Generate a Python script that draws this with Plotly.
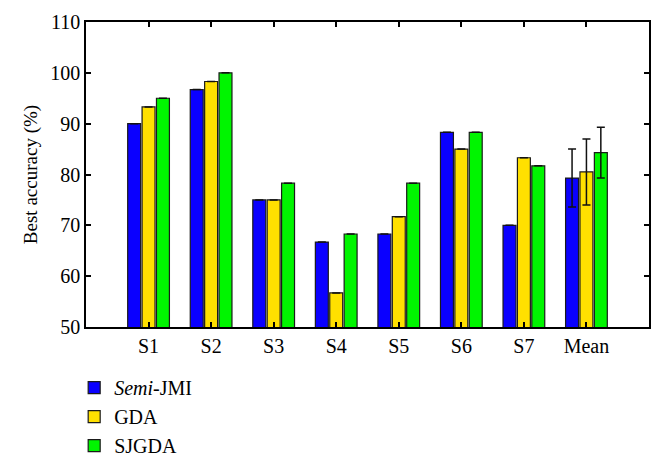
import plotly.graph_objects as go

categories = ["S1", "S2", "S3", "S4", "S5", "S6", "S7", "Mean"]
semi_jmi = [90.0, 96.7, 75.0, 66.7, 68.3, 88.3, 70.0, 79.3]
gda = [93.3, 98.3, 75.0, 56.7, 71.7, 85.0, 83.3, 80.5]
sjgda = [95.0, 100.0, 78.3, 68.3, 78.3, 88.3, 81.7, 84.3]
semi_jmi_err = [None] * 7 + [5.7]
gda_err = [None] * 7 + [6.5]
sjgda_err = [None] * 7 + [5.0]
y_ticks = [50, 60, 70, 80, 90, 100, 110]

names = ["<i>Semi</i>-JMI", "GDA", "SJGDA"]
colors = ["#0A00FF", "#FFE000", "#00F500"]
series = [semi_jmi, gda, sjgda]
errs = [semi_jmi_err, gda_err, sjgda_err]

FONT = "Liberation Serif"
fig = go.Figure()
for n, c, v, e in zip(names, colors, series, errs):
    fig.add_trace(go.Bar(
        x=list(range(len(categories))), y=v, name=n,
        marker=dict(color=c, line=dict(color="#1a1a1a", width=1.2)),
        error_y=dict(type="data", array=e, visible=True, color="#111", thickness=1.5, width=4),
    ))

fig.update_layout(
    width=664, height=470,
    margin=dict(l=86, r=15, t=22, b=143, autoexpand=False),
    paper_bgcolor="white", plot_bgcolor="white",
    barmode="group", bargap=0.31, bargroupgap=0.1,
    font=dict(family=FONT, size=20, color="black"),
    showlegend=True,
    legend=dict(x=-0.021, xanchor="left", y=-0.135, yanchor="top",
                font=dict(family=FONT, size=20), tracegroupgap=0,
                bgcolor="rgba(0,0,0,0)"),
    xaxis=dict(range=[-1, 8], tickmode="array", tickvals=list(range(len(categories))),
               ticktext=categories, showline=True, mirror="ticks", linecolor="black",
               linewidth=1.5, ticks="inside", ticklen=5, tickwidth=1.5, tickcolor="black",
               showgrid=False, zeroline=False, automargin=False, tickfont=dict(size=20)),
    yaxis=dict(range=[50, 110], tickvals=y_ticks,
               showline=True, mirror="ticks", linecolor="black", linewidth=1.5,
               ticks="inside", ticklen=5, tickwidth=1.5, tickcolor="black",
               showgrid=False, zeroline=False, automargin=False,
               tickfont=dict(size=20),
               title=dict(text="Best accuracy (%)", standoff=8, font=dict(size=19))),
)
fig.write_html("out.html", config={"displayModeBar": False},
               post_script="document.body.style.margin='0';document.body.style.overflow='hidden';")
